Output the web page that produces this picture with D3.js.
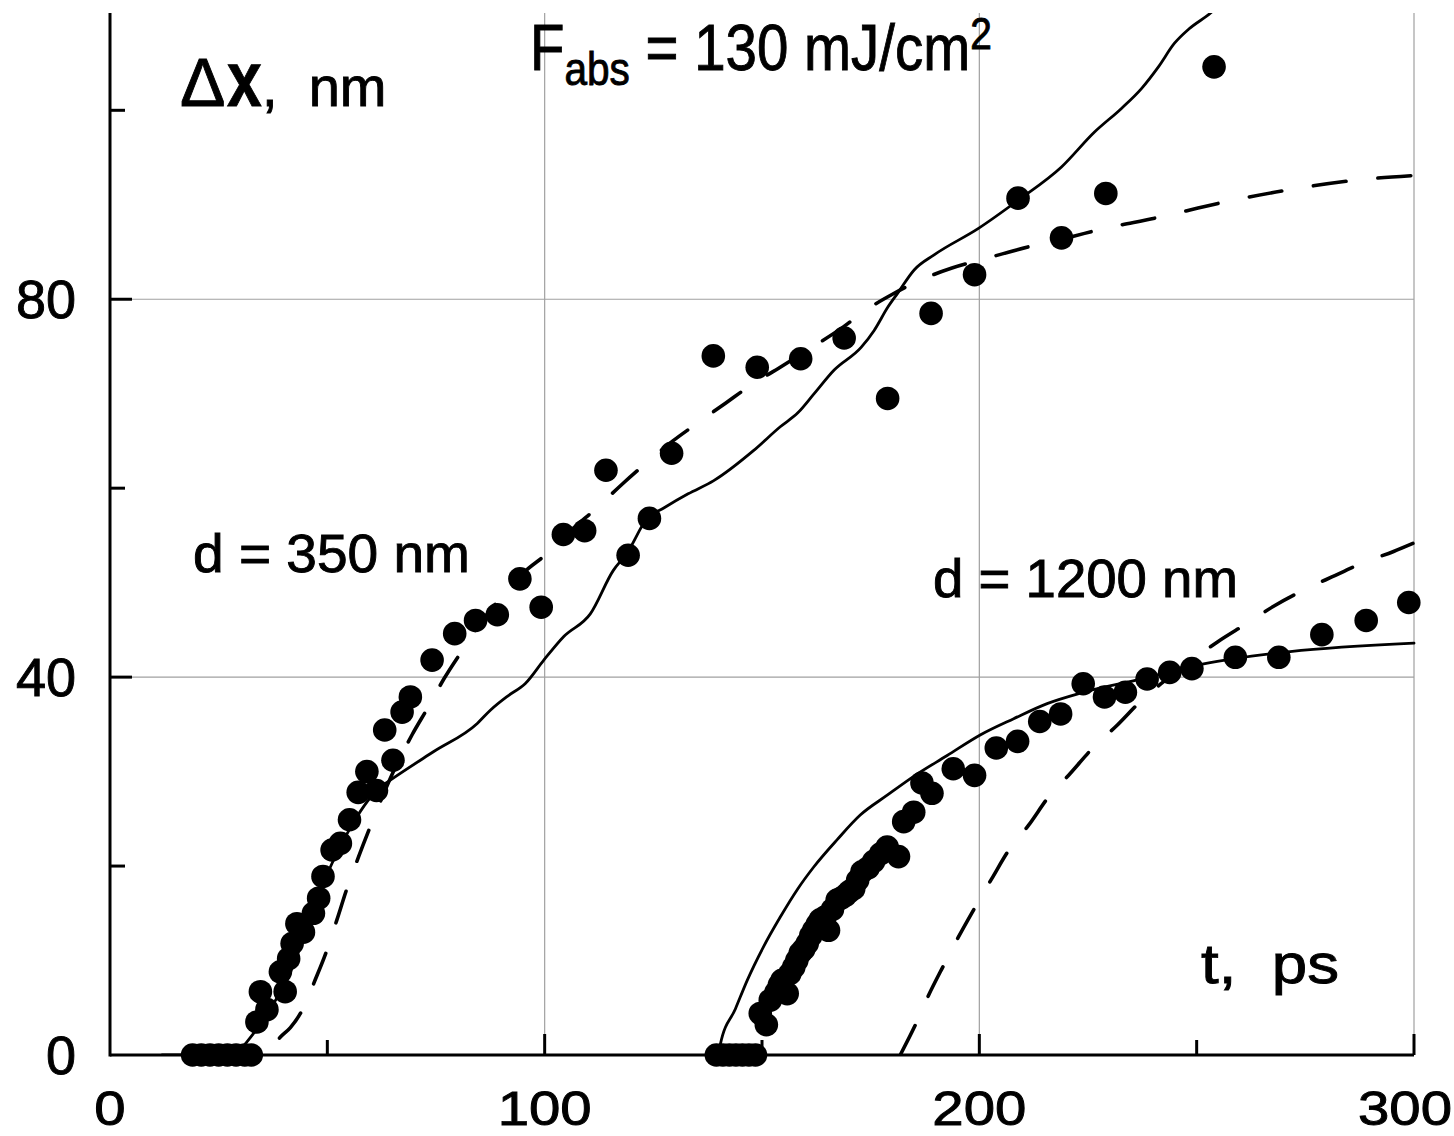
<!DOCTYPE html>
<html>
<head>
<meta charset="utf-8">
<script src="https://cdn.jsdelivr.net/npm/d3@7"></script>
<style>
  html, body { margin: 0; padding: 0; background: #fff; }
  svg { display: block; }
  text { font-family: "Liberation Sans", Arial, sans-serif; fill: #000; stroke: #000; stroke-width: 0.9px; }
</style>
</head>
<body>
<svg id="chart" width="1454" height="1136"></svg>
<script>
// Measured displacement Δx (nm) versus delay t (ps), d = 350 nm film
const points350 = [
  [19, 0], [21, 0], [23, 0], [25, 0], [27, 0], [29, 0], [31, 0], [32.5, 0],
  [33.8, 3.5], [34.6, 6.7], [36.1, 4.8], [39.2, 8.8], [40.3, 6.7], [41.1, 10.2],
  [41.9, 11.8], [43.0, 13.9], [44.5, 13.0], [46.8, 15.0], [48.0, 16.6], [49.0, 18.9],
  [51.1, 21.7], [53.0, 22.4], [55.1, 24.9], [57.1, 27.8], [59.1, 30.0], [61.3, 28.0],
  [63.2, 34.4], [65.1, 31.2], [67.2, 36.3], [69.1, 37.9], [74.1, 41.8], [79.3, 44.6],
  [84.1, 46.0], [89.1, 46.6], [94.3, 50.4], [99.2, 47.4], [104.3, 55.1], [109.2, 55.5],
  [114.1, 61.9], [119.2, 52.9], [124.1, 56.8], [129.2, 63.7], [138.8, 74.0], [148.9, 72.8],
  [158.9, 73.7], [168.9, 75.9], [178.9, 69.5], [188.9, 78.5], [198.9, 82.6], [208.9, 90.7],
  [218.9, 86.5], [229.1, 91.2], [254.0, 104.6]
];

// Measured displacement, d = 1200 nm film
const points1200 = [
  [139.5, 0], [141, 0], [142.5, 0], [144, 0], [145.5, 0], [147, 0], [148.5, 0],
  [149.6, 4.4], [151.0, 3.2], [151.9, 5.8], [153.2, 6.6], [154.0, 7.4], [154.6, 7.9],
  [155.8, 6.5], [156.4, 8.6], [157.3, 9.3], [158.0, 10.0], [158.8, 10.8], [159.6, 11.2],
  [160.4, 11.8], [161.2, 12.6], [161.9, 13.2], [162.7, 13.8], [163.4, 14.3], [164.5, 14.6],
  [165.3, 13.2], [166.2, 15.4], [167.3, 16.4], [168.2, 16.6], [169.2, 16.9], [170.1, 17.3],
  [171.1, 17.6], [172.0, 18.5], [173.0, 19.4], [174.4, 19.8], [175.7, 20.5], [177.3, 21.3],
  [178.8, 22.0], [181.4, 21.0], [182.6, 24.7], [184.9, 25.7], [186.8, 28.8], [189.1, 27.7],
  [194.0, 30.3], [198.9, 29.6], [203.9, 32.5], [208.8, 33.2], [213.9, 35.3], [218.7, 36.1],
  [223.9, 39.3], [228.8, 37.9], [233.6, 38.4], [238.6, 39.8], [243.8, 40.5], [248.9, 40.9],
  [258.9, 42.1], [268.9, 42.1], [278.8, 44.5], [289.0, 46.0], [298.8, 47.9]
];

// Model curve (solid), d = 350 nm
const solid350 = [
  [12, 0], [28, 0], [30, 0.6], [31.5, 1.4], [34, 2.9], [37, 5.0], [40.7, 7.9], [45.5, 13.6],
  [50.7, 19.9], [55, 23.8], [58.5, 26.4], [62, 28.3], [64.5, 29.1], [74.4, 32.1], [84.5, 35.1],
  [87.5, 36.5], [91.5, 38.0], [95.5, 39.3], [99.8, 41.8], [104.4, 44.3], [110.5, 46.7],
  [115.8, 51.3], [118.9, 53.1], [123.6, 56.8], [127.4, 57.9], [133, 59.4], [138.9, 60.8],
  [148.1, 64.0], [154.2, 66.5], [158.3, 68.0], [162, 70.0], [166.6, 72.5], [172.8, 74.9],
  [175.8, 76.7], [179, 79.2], [181.3, 80.7], [185, 83.1], [189.6, 84.7], [199.8, 87.5],
  [209, 90.5], [218.9, 94.0], [226.5, 97.7], [232.7, 100.2], [237.3, 102.3],
  [241.2, 104.6], [244.9, 107.1], [248.2, 108.6], [253.2, 110.3], [256, 111.5]
];

// Model curve (dashed), d = 350 nm
const dashed350 = [
  [32, 0], [35, 0.3], [37.5, 1.0], [39.2, 1.9], [41.5, 2.9], [43.8, 4.4], [45.5, 6.0],
  [46.9, 7.6], [49.9, 11.1], [52.2, 14.3], [54.5, 17.6], [57.2, 21.0], [59.9, 24.2],
  [64.5, 29.3], [69.5, 33.9], [73.3, 36.9], [76.8, 39.8], [81, 42.8], [85, 45.6],
  [89.9, 48.4], [95, 51.0], [100.9, 53.2], [106, 55.5], [112.2, 58.0], [118, 60.5],
  [123.7, 62.8], [129.5, 65.0], [135.5, 67.0], [141.6, 69.0], [148.1, 71.1], [154.2, 72.8],
  [161.1, 74.8], [168.8, 77.1], [173.4, 78.7], [179.9, 80.5], [186.8, 82.1], [193.7, 83.3],
  [201.4, 84.3], [211.7, 85.6], [221.9, 86.7], [227, 87.3], [241.5, 88.7], [256.5, 90.3],
  [271.4, 91.6], [286.4, 92.6], [300, 93.1]
];

// Model curve (solid), d = 1200 nm
const solid1200 = [
  [140.1, 0], [140.4, 1.1], [143.9, 4.9], [146.6, 7.9], [150.4, 11.5], [154.2, 14.6],
  [158.1, 17.5], [161.9, 19.9], [167.3, 22.8], [172.6, 25.4], [178.8, 27.5], [184.9, 29.5],
  [192.6, 31.7], [200.3, 33.9], [207.9, 35.6], [215.6, 37.2], [223.2, 38.3], [236.3, 39.7],
  [251.6, 41.4], [271.5, 42.7], [300, 43.6]
];

// Model curve (dashed), d = 1200 nm
const dashed1200 = [
  [181.8, 0], [185.3, 3.2], [188.3, 6.3], [191.8, 9.5], [195.2, 12.5], [199.1, 15.7],
  [202.9, 18.7], [207.1, 21.9], [211.3, 24.3], [215.9, 27.3], [220.9, 29.8], [226.3, 32.6],
  [231.7, 34.9], [237.0, 37.4], [246, 40.8], [254.7, 43.7], [261.6, 45.7], [267.7, 47.5],
  [274.6, 49.2], [281.1, 50.6], [288.8, 52.2], [295.3, 53.3], [300, 54.2]
];

// Axis ticks
const xMajorTicks = [100, 200, 300];
const xMinorTicks = [50, 150, 250];
const xTickLabels = [0, 100, 200, 300];
const yMajorTicks = [40, 80];
const yMinorTicks = [20, 60, 100];
const yTickLabels = [0, 40, 80];

const W = 1454;
const svg = d3.select("#chart");

const x = d3.scaleLinear().domain([0, 300]).range([110, 1414]);
const y = d3.scaleLinear().domain([0, 110.3]).range([1055, 13]);

// Squeeze or stretch a text horizontally so that it spans `width` pixels from `left`
function fitWidth(sel, left, width) {
  const box = sel.node().getBBox();
  const k = width / box.width;
  sel.attr("transform", `translate(${left},0) scale(${k},1) translate(${-box.x},0)`);
}

const defs = svg.append("defs");
defs.append("clipPath").attr("id", "plot-clip")
  .append("rect")
  .attr("x", x(0)).attr("y", y(110.3))
  .attr("width", x(300) - x(0) + 2).attr("height", y(0) - y(110.3));

// Grid lines
const grid = svg.append("g").attr("stroke", "#a0a0a0").attr("stroke-width", 1.2);
grid.selectAll("line.vg").data(xMajorTicks).join("line")
  .attr("x1", d => x(d)).attr("x2", d => x(d))
  .attr("y1", y(110.3)).attr("y2", y(0));
grid.selectAll("line.hg").data(yMajorTicks).join("line")
  .attr("x1", x(0)).attr("x2", x(300))
  .attr("y1", d => y(d)).attr("y2", d => y(d));

// Model curves
const line = d3.line().x(d => x(d[0])).y(d => y(d[1])).curve(d3.curveMonotoneX);
const curves = svg.append("g").attr("clip-path", "url(#plot-clip)")
  .attr("fill", "none").attr("stroke", "#000").attr("stroke-linecap", "round");

curves.append("path").datum(solid350).attr("d", line).attr("stroke-width", 2.8);
curves.append("path").datum(solid1200).attr("d", line).attr("stroke-width", 2.8);
curves.append("path").datum(dashed350).attr("d", line)
  .attr("stroke-width", 3.6).attr("stroke-dasharray", "33,32").attr("stroke-dashoffset", 29);
curves.append("path").datum(dashed1200).attr("d", line)
  .attr("stroke-width", 3.6).attr("stroke-dasharray", "33,32");

// Axes
const axes = svg.append("g").attr("stroke", "#000").attr("stroke-width", 3);
axes.append("line").attr("x1", x(0)).attr("x2", x(300)).attr("y1", y(0)).attr("y2", y(0));
axes.append("line").attr("x1", x(0)).attr("x2", x(0)).attr("y1", y(0) + 1.5).attr("y2", y(110.3));
axes.selectAll("line.xmaj").data(xMajorTicks).join("line")
  .attr("x1", d => x(d)).attr("x2", d => x(d)).attr("y1", y(0)).attr("y2", y(0) - 21);
axes.selectAll("line.xmin").data(xMinorTicks).join("line")
  .attr("x1", d => x(d)).attr("x2", d => x(d)).attr("y1", y(0)).attr("y2", y(0) - 15);
axes.selectAll("line.ymaj").data(yMajorTicks).join("line")
  .attr("x1", x(0)).attr("x2", x(0) + 22).attr("y1", d => y(d)).attr("y2", d => y(d));
axes.selectAll("line.ymin").data(yMinorTicks).join("line")
  .attr("x1", x(0)).attr("x2", x(0) + 15).attr("y1", d => y(d)).attr("y2", d => y(d));

// Data points
const dots = svg.append("g").attr("fill", "#000");
dots.selectAll("circle.a").data(points350).join("circle")
  .attr("cx", d => x(d[0])).attr("cy", d => y(d[1])).attr("r", 11.8);
dots.selectAll("circle.b").data(points1200).join("circle")
  .attr("cx", d => x(d[0])).attr("cy", d => y(d[1])).attr("r", 11.8);

// Tick labels
svg.append("g").selectAll("text").data(yTickLabels).join("text")
  .attr("x", 76).attr("y", d => y(d) + 19)
  .attr("text-anchor", "end").attr("font-size", 54)
  .text(d => d);

const xLabelSize = 49, xLabelStretch = 1.15;
svg.append("g").selectAll("text").data(xTickLabels).join("text")
  .attr("text-anchor", "middle").attr("font-size", xLabelSize)
  .text(d => d)
  .attr("transform", function (d) {
    const half = this.getBBox().width * xLabelStretch / 2;
    const cx = Math.min(x(d), W - 2 - half);
    return `translate(${cx},1125) scale(${xLabelStretch},1)`;
  });

// Axis titles
svg.append("text").attr("x", 180).attr("y", 106).attr("font-size", 68).text("Δ");
svg.append("text").attr("font-size", 78).attr("font-weight", "bold")
  .attr("transform", "translate(227,106) scale(0.8,1)").text("x");
svg.append("text").attr("x", 262).attr("y", 106).attr("font-size", 56)
  .attr("xml:space", "preserve").text(",  nm");

const tTitle = svg.append("text").attr("y", 983).attr("font-size", 56)
  .attr("xml:space", "preserve").text("t,  ps");
fitWidth(tTitle, 1201, 138);

// Annotations
const fl = svg.append("text").attr("y", 70).attr("font-size", 64);
fl.append("tspan").text("F");
fl.append("tspan").attr("font-size", 46).attr("dy", 15).text("abs");
fl.append("tspan").attr("dy", -15).attr("xml:space", "preserve").text(" = 130 mJ/cm");
fl.append("tspan").attr("font-size", 44).attr("dy", -21).text("2");
fitWidth(fl, 530, 462);

const d350 = svg.append("text").attr("y", 572).attr("font-size", 54).text("d = 350 nm");
fitWidth(d350, 193, 277);
const d1200 = svg.append("text").attr("y", 597).attr("font-size", 54).text("d = 1200 nm");
fitWidth(d1200, 933, 305);
</script>
</body>
</html>
